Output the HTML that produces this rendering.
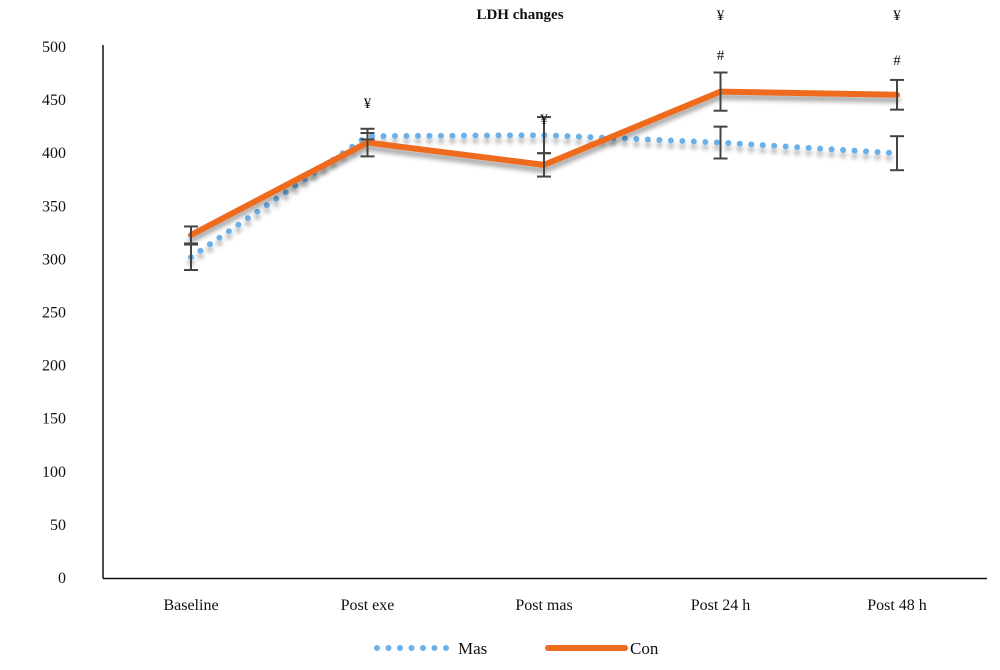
<!DOCTYPE html>
<html><head><meta charset="utf-8"><style>
body{margin:0;background:#fff;}
svg text{font-family:"Liberation Serif",serif;fill:#111;}
</style></head><body>
<svg width="1000" height="665" viewBox="0 0 1000 665" id="chart">
<defs><filter id="sh" x="-5%" y="-20%" width="110%" height="160%"><feGaussianBlur in="SourceAlpha" stdDeviation="2.5"/><feOffset dy="5"/><feComponentTransfer><feFuncA type="linear" slope="0.35"/></feComponentTransfer><feMerge><feMergeNode/><feMergeNode in="SourceGraphic"/></feMerge></filter></defs>
<text x="520" y="19" text-anchor="middle" font-size="15" font-weight="bold">LDH changes</text>
<g id="yaxis"></g><g id="xaxis"></g><g id="series"></g><g id="ann"></g>
<line x1="103" y1="45" x2="103" y2="578.5" stroke="#111" stroke-width="1.5"/>
<line x1="103" y1="578.5" x2="987" y2="578.5" stroke="#111" stroke-width="1.5"/>
<g>
<line x1="377" y1="648" x2="447" y2="648" stroke="#6cb0e8" stroke-width="6" stroke-linecap="round" stroke-dasharray="0 11.5"/>
<text x="458" y="654" font-size="17">Mas</text>
<line x1="548" y1="648" x2="625" y2="648" stroke="#ee6a1f" stroke-width="6" stroke-linecap="round"/>
<text x="630" y="654" font-size="17">Con</text>
</g>
</svg>
<script>
const categories=["Baseline","Post exe","Post mas","Post 24 h","Post 48 h"];
const masValues=[302,416,417,410,400];
const masErr=[12,3,17,15,16];
const conValues=[323,410,389,458,455];
const conErr=[8,13,11,18,14];
const yTicks=[0,50,100,150,200,250,300,350,400,450,500];
const yenMarks=["","¥","¥","¥","¥"];
const hashMarks=["","","","#","#"];
const NS="http://www.w3.org/2000/svg";
const y=v=>578-v*1.062;
const x=i=>191+i*176.5;
function mk(tag,attrs,parent){const e=document.createElementNS(NS,tag);for(const k in attrs)e.setAttribute(k,attrs[k]);document.getElementById(parent).appendChild(e);return e;}
yTicks.forEach(t=>{const e=mk("text",{x:66,y:y(t)+5,"text-anchor":"end","font-size":"16"},"yaxis");e.textContent=t;

});
categories.forEach((c,i)=>{const e=mk("text",{x:x(i),y:610,"text-anchor":"middle","font-size":"16"},"xaxis");e.textContent=c;

});
function pts(vals){return vals.map((v,i)=>x(i)+","+y(v)).join(" ");}
const m=mk("polyline",{points:pts(masValues),fill:"none",stroke:"#6cb0e8","stroke-width":6,"stroke-linecap":"round","stroke-dasharray":"0 11.5",filter:"url(#sh)"},"series");


const c=mk("polyline",{points:pts(conValues),fill:"none",stroke:"#ee6a1f","stroke-width":6,"stroke-linejoin":"round","stroke-linecap":"round",filter:"url(#sh)"},"series");


function err(vals,errs,name){vals.forEach((v,i)=>{const g=mk("g",{stroke:"#444","stroke-width":2},"series");


const X=x(i),t=y(v+errs[i]),b=y(v-errs[i]);
[[X,t,X,b],[X-7,t,X+7,t],[X-7,b,X+7,b]].forEach(a=>{const l=document.createElementNS(NS,"line");l.setAttribute("x1",a[0]);l.setAttribute("y1",a[1]);l.setAttribute("x2",a[2]);l.setAttribute("y2",a[3]);g.appendChild(l);});});}
err(masValues,masErr,'mas-error-bar');
err(conValues,conErr,'con-error-bar');
const yenY=[0,108,124,20,20];
yenMarks.forEach((s,i)=>{if(!s)return;const e=mk("text",{x:x(i),y:yenY[i],"text-anchor":"middle","font-size":"15"},"ann");e.textContent=s;

});
const hashY=[0,0,0,60,65];
hashMarks.forEach((s,i)=>{if(!s)return;const e=mk("text",{x:x(i),y:hashY[i],"text-anchor":"middle","font-size":"15"},"ann");e.textContent=s;

});
</script>
</body></html>
